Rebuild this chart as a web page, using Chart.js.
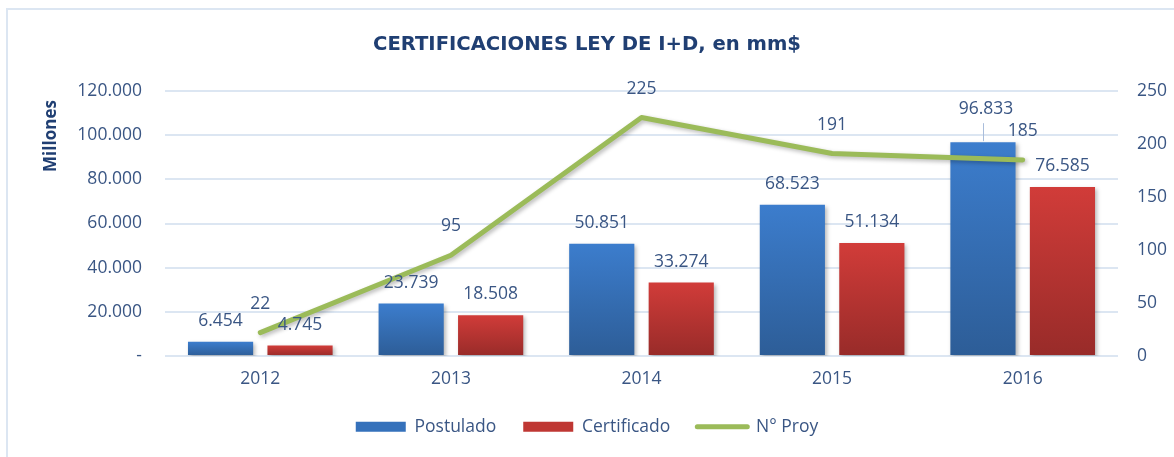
<!DOCTYPE html>
<html><head><meta charset="utf-8">
<script src="https://cdn.jsdelivr.net/npm/chart.js@4/dist/chart.umd.min.js"></script>
<style>
html,body{margin:0;padding:0;background:#fff;overflow:hidden}
#wrap{position:relative;width:1174px;height:457px;overflow:hidden}
#frame{position:absolute;left:6px;top:8px;width:1200px;height:470px;border:2px solid #dce6f2;box-sizing:border-box}
canvas{position:absolute;left:0;top:0}
</style></head><body>
<div id="wrap"><div id="frame"></div><canvas id="c" width="1174" height="457"></canvas></div>
<script>
const categories = ['2012', '2013', '2014', '2015', '2016'];
const postulado = [6454, 23739, 50851, 68523, 96833];
const certificado = [4745, 18508, 33274, 51134, 76585];
const nProy = [22, 95, 225, 191, 185];
const leftTicks = [0, 20000, 40000, 60000, 80000, 100000, 120000];
const rightTicks = [0, 50, 100, 150, 200, 250];
const seriesNames = ['Postulado', 'Certificado', 'N° Proy'];
const chartTitle = 'CERTIFICACIONES LEY DE I+D, en mm$';
const leftAxisTitle = 'Millones';

const FONT = '"Open Sans", "DejaVu Sans", sans-serif';
const TITLE_FONT = '"DejaVu Sans", "Open Sans", sans-serif';
const FS = 17.5;
const TXT = '#3a5684';
const TITLE = '#203f73';

function fmt(v) {
  if (v === 0) return '-';
  return String(v).replace(/\B(?=(\d{3})+(?!\d))/g, '.');
}

function barGrad(top, bottom) {
  return (ctx) => {
    if (ctx.type !== 'data') return bottom;
    const ch = ctx.chart;
    const ys = ch.scales && ch.scales.y;
    if (!ys || !ch.chartArea) return bottom;
    const y0 = ys.getPixelForValue(0);
    const y1 = ys.getPixelForValue(ctx.raw);
    if (!isFinite(y0) || !isFinite(y1) || Math.abs(y0 - y1) < 1) return bottom;
    const g = ch.ctx.createLinearGradient(0, y1, 0, y0);
    g.addColorStop(0, top);
    g.addColorStop(1, bottom);
    return g;
  };
}

const shadowPlugin = {
  id: 'shadow',
  beforeDatasetDraw(chart) {
    const c = chart.ctx;
    c.save();
    c.shadowColor = 'rgba(0,0,0,0.28)';
    c.shadowBlur = 4;
    c.shadowOffsetX = 2;
    c.shadowOffsetY = 2;
  },
  afterDatasetDraw(chart) {
    chart.ctx.restore();
  }
};

const axisTitlePlugin = {
  id: 'axisTitle',
  afterDraw(chart) {
    const c = chart.ctx;
    const a = chart.chartArea;
    c.save();
    c.font = 'bold 17px ' + FONT;
    c.fillStyle = TITLE;
    c.textAlign = 'center';
    c.textBaseline = 'middle';
    c.translate(51, a.top + 45);
    c.rotate(-Math.PI / 2);
    c.fillText(leftAxisTitle, 0, 0);
    c.restore();
  }
};

const labelPlugin = {
  id: 'valueLabels',
  afterDatasetsDraw(chart) {
    const c = chart.ctx;
    c.save();
    c.font = FS + 'px ' + FONT;
    c.fillStyle = TXT;
    c.textAlign = 'center';
    c.textBaseline = 'middle';
    const lineMeta = chart.getDatasetMeta(2);
    const lineBoxes = lineMeta.data.map((pt, i) => {
      const t = String(chart.data.datasets[2].data[i]);
      return { x: pt.x, y: pt.y - 29, w: c.measureText(t).width, t };
    });
    [0, 1].forEach(di => {
      const meta = chart.getDatasetMeta(di);
      const vals = chart.data.datasets[di].data;
      meta.data.forEach((bar, i) => {
        const t = fmt(vals[i]);
        const w = c.measureText(t).width;
        let y = bar.y - 21;
        const x = bar.x;
        const hit = lineBoxes.some(b => Math.abs(b.x - x) < (b.w + w) / 2 + 4 && Math.abs(b.y - y) < 15);
        if (hit) {
          y -= 12;
          c.save();
          c.strokeStyle = '#a9bddb';
          c.lineWidth = 1;
          c.beginPath();
          c.moveTo(Math.round(x) + 0.5, y + 14);
          c.lineTo(Math.round(x) + 0.5, bar.y - 1);
          c.stroke();
          c.restore();
        }
        c.fillText(t, x + (hit ? 3 : 0), y);
      });
    });
    lineBoxes.forEach(b => c.fillText(b.t, b.x, b.y));
    c.restore();
  }
};

const legendColors = ['#3571bb', '#bf3733'];

new Chart(document.getElementById('c'), {
  data: {
    labels: categories,
    datasets: [
      { type: 'bar', label: seriesNames[0], data: postulado, yAxisID: 'y', order: 1,
        backgroundColor: barGrad('#3c7dcd', '#2d5d97'), borderWidth: 0,
        barPercentage: 0.82, categoryPercentage: 0.834 },
      { type: 'bar', label: seriesNames[1], data: certificado, yAxisID: 'y', order: 1,
        backgroundColor: barGrad('#d13c39', '#982b29'), borderWidth: 0,
        barPercentage: 0.82, categoryPercentage: 0.834 },
      { type: 'line', label: seriesNames[2], data: nProy, yAxisID: 'y1', order: 0,
        borderColor: '#9bbb59', backgroundColor: '#9bbb59', borderWidth: 5,
        borderCapStyle: 'round', borderJoinStyle: 'round', tension: 0,
        pointRadius: 0, pointHoverRadius: 0, fill: false }
    ]
  },
  options: {
    responsive: false,
    maintainAspectRatio: false,
    devicePixelRatio: 1,
    animation: false,
    events: [],
    layout: { padding: { left: 0, right: 0, top: 0, bottom: 11.5 } },
    plugins: {
      tooltip: { enabled: false },
      title: {
        display: true,
        text: chartTitle,
        color: TITLE,
        font: { family: TITLE_FONT, size: 19.6, weight: 'bold', lineHeight: 1.2 },
        padding: { top: 33.6, bottom: 33.9 }
      },
      legend: {
        position: 'bottom',
        labels: {
          usePointStyle: true,
          pointStyleWidth: 50,
          boxHeight: 10,
          padding: 27,
          color: TXT,
          font: { family: FONT, size: FS },
          generateLabels(chart) {
            const items = Chart.defaults.plugins.legend.labels.generateLabels(chart);
            items.sort((a, b) => a.datasetIndex - b.datasetIndex);
            items.forEach((it) => {
              const i = it.datasetIndex;
              if (i < 2) {
                it.pointStyle = 'rect';
                it.fillStyle = legendColors[i];
                it.lineWidth = 0;
                it.strokeStyle = legendColors[i];
              } else {
                it.pointStyle = 'line';
                it.lineWidth = 5;
                it.strokeStyle = '#9bbb59';
                it.lineCap = 'round';
              }
              it.rotation = 0;
            });
            return items;
          }
        }
      }
    },
    scales: {
      x: {
        grid: { display: false, drawTicks: false },
        border: { display: false },
        ticks: { color: TXT, font: { family: FONT, size: FS }, padding: 13 },
        afterFit(s) { s.height = 35; }
      },
      y: {
        position: 'left',
        min: 0, max: 120000,
        afterBuildTicks(s) { s.ticks = leftTicks.map(v => ({ value: v })); },
        grid: { color: '#dce6f2', lineWidth: 2, drawTicks: false },
        border: { display: false },
        ticks: { color: TXT, font: { family: FONT, size: FS }, padding: 23, callback: v => fmt(v) },
        afterFit(s) { s.width = 165; }
      },
      y1: {
        position: 'right',
        min: 0, max: 250,
        afterBuildTicks(s) { s.ticks = rightTicks.map(v => ({ value: v })); },
        grid: { display: false, drawTicks: false },
        border: { display: false },
        ticks: { color: TXT, font: { family: FONT, size: FS }, padding: 19 },
        afterFit(s) { s.width = 56; }
      }
    }
  },
  plugins: [shadowPlugin, labelPlugin, axisTitlePlugin]
});
</script>
</body></html>
